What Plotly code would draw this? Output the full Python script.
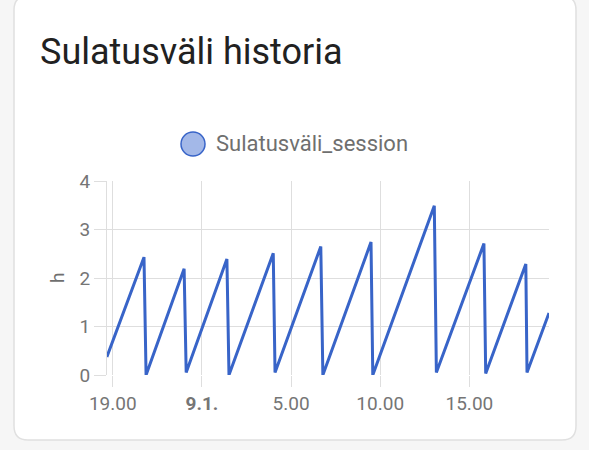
import plotly.graph_objects as go

# ---- data ----
times = [
    "2024-01-08 18:40", "2024-01-08 20:45", "2024-01-08 20:52",
    "2024-01-08 23:00", "2024-01-08 23:07", "2024-01-09 01:24",
    "2024-01-09 01:31", "2024-01-09 04:00", "2024-01-09 04:06",
    "2024-01-09 06:40", "2024-01-09 06:47", "2024-01-09 09:29",
    "2024-01-09 09:35", "2024-01-09 13:02", "2024-01-09 13:09",
    "2024-01-09 15:49", "2024-01-09 15:55", "2024-01-09 18:10",
    "2024-01-09 18:14", "2024-01-09 19:28",
]
values = [
    0.37, 2.43, 0.0,
    2.19, 0.05, 2.39,
    0.0, 2.51, 0.05,
    2.65, 0.0, 2.74,
    0.0, 3.49, 0.05,
    2.71, 0.03, 2.29,
    0.05, 1.28,
]
series_name = "Sulatusväli_session"
title_text = "Sulatusväli historia"
y_title = "h"
x_tickvals = ["2024-01-08 19:00", "2024-01-09 00:00", "2024-01-09 05:00",
              "2024-01-09 10:00", "2024-01-09 15:00"]
x_ticktext = ["19.00", "<b>9.1.</b>", "5.00", "10.00", "15.00"]
y_tickvals = [0, 1, 2, 3, 4]

# ---- layout geometry (pixels) ----
WIDTH, HEIGHT = 589, 450
L, R, T, B = 107, 549, 181, 375
PW, PH = R - L, B - T

def px(x):
    return (x - L) / PW

def py(y):
    return (B - y) / PH

LINE = "#3864c8"
GRID = "#dedede"
FONT = "Roboto"

fig = go.Figure()
fig.add_trace(go.Scatter(
    x=times, y=values, mode="lines", name=series_name,
    line=dict(color=LINE, width=3), showlegend=False,
    hoverinfo="skip",
))

# card with rounded corners
cx0, cx1, cy0, cy1, r = 14, 576, -4, 440, 14
path = (
    f"M {px(cx0 + r)},{py(cy0)} L {px(cx1 - r)},{py(cy0)} "
    f"Q {px(cx1)},{py(cy0)} {px(cx1)},{py(cy0 + r)} "
    f"L {px(cx1)},{py(cy1 - r)} Q {px(cx1)},{py(cy1)} {px(cx1 - r)},{py(cy1)} "
    f"L {px(cx0 + r)},{py(cy1)} Q {px(cx0)},{py(cy1)} {px(cx0)},{py(cy1 - r)} "
    f"L {px(cx0)},{py(cy0 + r)} Q {px(cx0)},{py(cy0)} {px(cx0 + r)},{py(cy0)} Z"
)
shapes = [
    dict(type="path", path=path, xref="paper", yref="paper",
         fillcolor="white", line=dict(color="#e0e0e0", width=1.5), layer="below"),
    dict(type="circle", xref="paper", yref="paper",
         x0=px(181), x1=px(205), y0=py(156), y1=py(132),
         fillcolor="#a3b8e8", line=dict(color=LINE, width=1.5)),
]

annotations = [
    dict(text=title_text, xref="paper", yref="paper", x=px(38), y=py(52),
         xanchor="left", yanchor="middle", showarrow=False,
         font=dict(family=FONT, size=36, color="#212121")),
    dict(text=series_name, xref="paper", yref="paper", x=px(214), y=py(143),
         xanchor="left", yanchor="middle", showarrow=False,
         font=dict(family=FONT, size=22, color="#6f6f6f")),
    dict(text=y_title, xref="paper", yref="paper", x=px(57), y=py(278),
         xanchor="center", yanchor="middle", showarrow=False, textangle=-90,
         font=dict(family=FONT, size=19, color="#6f6f6f")),
]

fig.update_layout(
    width=WIDTH, height=HEIGHT,
    margin=dict(l=L, r=WIDTH - R, t=T, b=HEIGHT - B, autoexpand=False),
    paper_bgcolor="#f6f6f6", plot_bgcolor="rgba(0,0,0,0)",
    font=dict(family=FONT, color="#757575"),
    shapes=shapes, annotations=annotations, showlegend=False,
)
fig.update_xaxes(
    range=["2024-01-08 18:40:30", "2024-01-09 19:28:00"],
    tickvals=x_tickvals, ticktext=x_ticktext,
    showgrid=True, gridcolor=GRID, gridwidth=1,
    ticks="outside", ticklen=11, tickcolor=GRID, tickwidth=1,
    tickfont=dict(family=FONT, size=19, color="#757575"),
    showline=False, zeroline=False, fixedrange=True,
)
fig.update_yaxes(
    range=[0, 4], tickvals=y_tickvals,
    showgrid=True, gridcolor=GRID, gridwidth=1,
    ticks="outside", ticklen=12, tickcolor=GRID, tickwidth=1,
    tickfont=dict(family=FONT, size=19, color="#757575"),
    showline=True, linecolor=GRID, linewidth=1,
    zeroline=False, fixedrange=True,
)

fig.write_html("out.html", config={"displayModeBar": False})
